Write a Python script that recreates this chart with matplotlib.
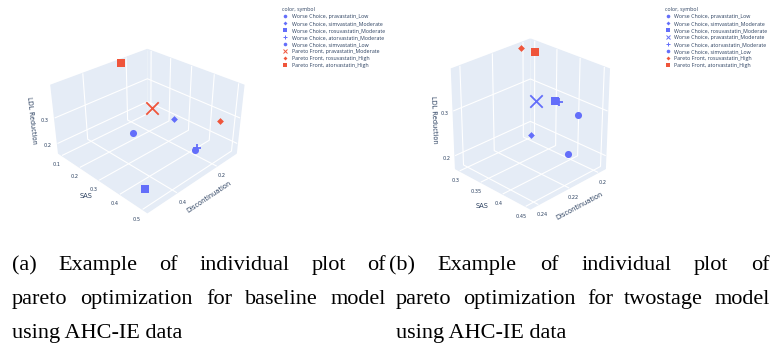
import matplotlib
matplotlib.use("Agg")
import matplotlib.pyplot as plt
from matplotlib.lines import Line2D

W, H = 774, 356
BLUE = "#636EFA"
RED = "#EF553B"
TXT = "#2a3f5f"
PANE = "#E5ECF6"

# ---------------- data ----------------
drugs_a = ["pravastatin_Low", "simvastatin_Moderate", "rosuvastatin_Moderate",
           "atorvastatin_Moderate", "simvastatin_Low", "pravastatin_Moderate",
           "rosuvastatin_High", "atorvastatin_High"]
group_a = ["Worse Choice"] * 5 + ["Pareto Front"] * 3
sas_a = [0.265, 0.362, 0.454, 0.446, 0.440, 0.311, 0.472, 0.095]
disc_a = [0.345, 0.248, 0.473, 0.218, 0.222, 0.299, 0.138, 0.240]
ldl_a = [0.243, 0.298, 0.180, 0.208, 0.199, 0.337, 0.289, 0.415]
sas_ticks_a = [0.1, 0.2, 0.3, 0.4, 0.5]
disc_ticks_a = [0.2, 0.4]
ldl_ticks_a = [0.2, 0.3]

drugs_b = ["pravastatin_Low", "simvastatin_Moderate", "rosuvastatin_Moderate",
           "pravastatin_Moderate", "atorvastatin_Moderate", "simvastatin_Low",
           "rosuvastatin_High", "atorvastatin_High"]
group_b = ["Worse Choice"] * 6 + ["Pareto Front"] * 2
sas_b = [0.428, 0.380, 0.382, 0.360, 0.388, 0.440, 0.300, 0.304]
disc_b = [0.2045, 0.221, 0.206, 0.212, 0.205, 0.2145, 0.2045, 0.196]
ldl_b = [0.292, 0.251, 0.305, 0.304, 0.304, 0.227, 0.386, 0.368]
sas_ticks_b = [0.3, 0.35, 0.4, 0.45]
disc_ticks_b = [0.2, 0.22, 0.24]
ldl_ticks_b = [0.2, 0.3]

# ---------------- styles ----------------
color_of = {"Worse Choice": BLUE, "Pareto Front": RED}
marker_of = {"pravastatin_Low": "o", "simvastatin_Moderate": "D",
             "rosuvastatin_Moderate": "s", "atorvastatin_Moderate": "+",
             "simvastatin_Low": "o", "pravastatin_Moderate": "x",
             "rosuvastatin_High": "D", "atorvastatin_High": "s"}
size_of = {"o": 26, "D": 12, "s": 30, "+": 30, "x": 80}

plt.rcParams["grid.color"] = "white"
plt.rcParams["grid.linewidth"] = 0.8

fig = plt.figure(figsize=(W / 100, H / 100), dpi=100)


def px_rect(x0, y0, x1, y1):
    return [x0 / W, 1 - y1 / H, (x1 - x0) / W, (y1 - y0) / H]


def style3d(ax):
    for axis in (ax.xaxis, ax.yaxis, ax.zaxis):
        axis.set_pane_color(PANE)
        axis.pane.set_edgecolor(PANE)
        axis.line.set_color((1, 1, 1, 0))
        axis._axinfo["grid"].update(color="white", linewidth=0.8)
        axis._axinfo["tick"].update(inward_factor=0, outward_factor=0)
        axis.label.set_color(TXT)
    ax.tick_params(labelsize=3.6, colors=TXT, pad=-3)


def draw(ax, drugs, grp, sas, disc, ldl, xt, yt, zt, lims, elev, box, zoom):
    for d, g, s, di, l in zip(drugs, grp, sas, disc, ldl):
        m = marker_of[d]
        lw = 1.3 if m in "+x" else 0
        ax.scatter([di], [s], [l], marker=m, s=size_of[m], color=color_of[g],
                   linewidths=lw, depthshade=False)
    ax.set_xlim(*lims[0]); ax.set_ylim(*lims[1]); ax.set_zlim(*lims[2])
    ax.set_xticks(xt); ax.set_yticks(yt); ax.set_zticks(zt)
    ax.set_xticklabels([f"{v:g}" for v in xt])
    ax.set_yticklabels([f"{v:g}" for v in yt])
    ax.set_zticklabels([f"{v:g}" for v in zt])
    ax.set_xlabel("Discontinuation", fontsize=4.8, labelpad=-9)
    ax.set_ylabel("SAS", fontsize=4.8, labelpad=-9)
    ax.set_zlabel("LDL Reduction", fontsize=4.8, labelpad=-9)
    ax.view_init(elev=elev, azim=45)
    ax.set_box_aspect(box, zoom=zoom)
    style3d(ax)


ax1 = fig.add_axes(px_rect(4, -1, 284, 249), projection="3d",
                   proj_type="persp", focal_length=0.35)
draw(ax1, drugs_a, group_a, sas_a, disc_a, ldl_a, disc_ticks_a, sas_ticks_a,
     ldl_ticks_a, [(0.09, 0.53), (0.08, 0.52), (0.16, 0.42)], 30,
     (1, 1, 0.6), 0.78)

ax2 = fig.add_axes(px_rect(392, -1.5, 662, 248.5), projection="3d",
                   proj_type="persp", focal_length=0.7)
draw(ax2, drugs_b, group_b, sas_b, disc_b, ldl_b, disc_ticks_b, sas_ticks_b,
     ldl_ticks_b, [(0.195, 0.245), (0.29, 0.46), (0.17, 0.39)], 27,
     (1, 1, 1.03), 0.738)

# ---------------- legends ----------------
def legend(drugs, grp, x, y):
    handles = [Line2D([], [], linestyle="none", marker=marker_of[d],
                      color=color_of[g], markersize=2.6 if marker_of[d] != "D" else 2.0,
                      markeredgewidth=0.7 if marker_of[d] in "+x" else 0)
               for d, g in zip(drugs, grp)]
    labels = [f"{g}, {d}" for d, g in zip(drugs, grp)]
    leg = fig.legend(handles, labels, loc="upper left",
                     bbox_to_anchor=(x / W, 1 - y / H), frameon=False,
                     title="color, symbol", title_fontsize=3.8,
                     alignment="left", labelspacing=0.38, handlelength=1.0,
                     handletextpad=0.8, borderaxespad=0, borderpad=0,
                     labelcolor=TXT, prop={"family": "Open Sans", "size": 3.8})
    leg.get_title().set_color(TXT)
    leg.get_title().set_family("Open Sans")


legend(drugs_a, group_a, 282, 7)
legend(drugs_b, group_b, 665, 7)

# ---------------- captions ----------------
FS = 16
FAM = "Liberation Serif"
renderer = fig.canvas.get_renderer()


def justified(text, x0, x1, yb):
    words = text.split()
    ts = [fig.text(0, 1 - yb / H, w, fontsize=FS, family=FAM, va="baseline",
                   color="black") for w in words]
    ws = [t.get_window_extent(renderer).width for t in ts]
    gap = (x1 - x0 - sum(ws)) / (len(words) - 1)
    x = x0
    for t, w in zip(ts, ws):
        t.set_x(x / W)
        x += w + gap


justified("(a) Example of individual plot of", 12, 386, 270)
justified("pareto optimization for baseline model", 12, 386, 304)
fig.text(12 / W, 1 - 338 / H, "using AHC-IE data", fontsize=FS, family=FAM,
         va="baseline")
justified("(b) Example of individual plot of", 389, 770, 270)
justified("pareto optimization for twostage model", 396, 770, 304)
fig.text(396 / W, 1 - 338 / H, "using AHC-IE data", fontsize=FS, family=FAM,
         va="baseline")

fig.savefig("out.png", dpi=100)
